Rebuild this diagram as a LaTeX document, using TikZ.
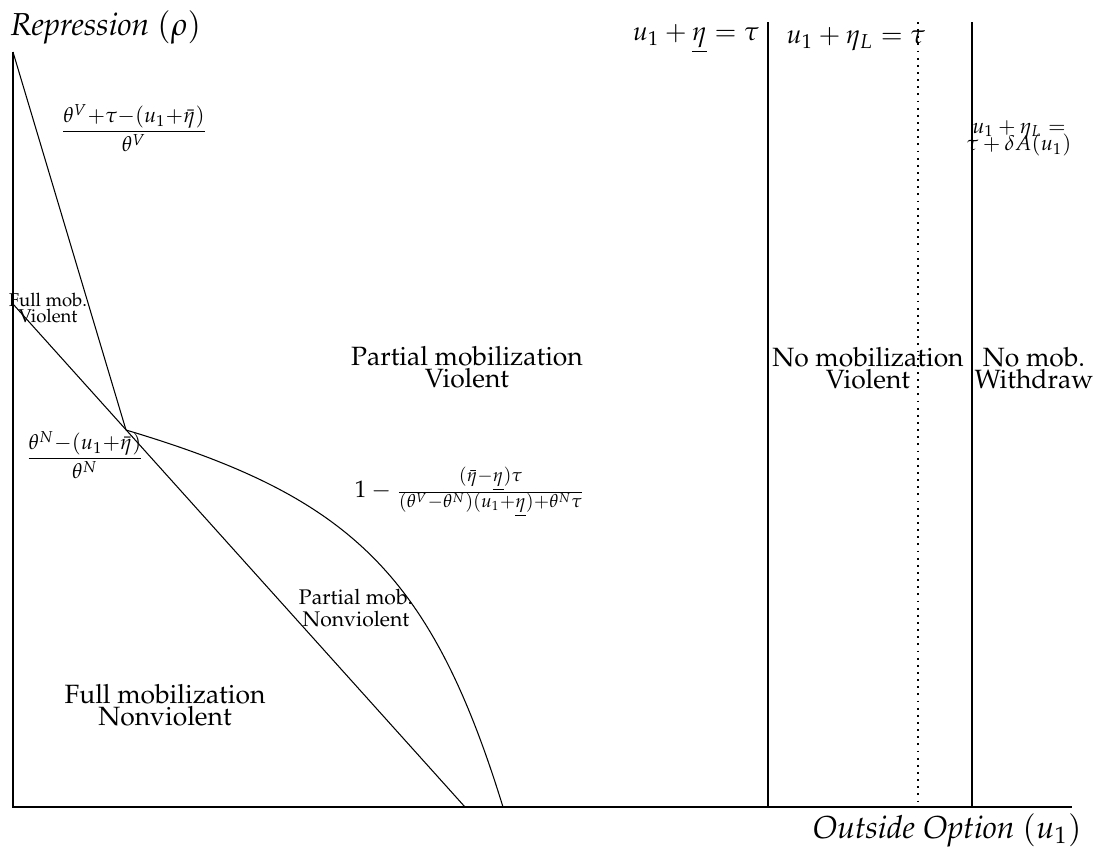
\documentclass[tikz,border=0pt]{standalone}
\usepackage[T1]{fontenc}
\usepackage{amsmath}
\usepackage{mathpazo}
\begin{document}
\begin{tikzpicture}[x=0.378pt,y=-0.378pt,
  curve/.style={line width=0.4pt},
  axis/.style={line width=0.7pt},
  lbl/.style={align=center,inner sep=0pt},
  sml/.style={lbl,font=\footnotesize},
  tny/.style={lbl,font=\scriptsize}]
\useasboundingbox (0,0) rectangle (1099,849);
% coordinates
\coordinate (top) at (13,52);
\coordinate (O) at (13,807);
\coordinate (xend) at (1072,807);
\coordinate (K) at (126,430);
\coordinate (A) at (13,304);
\coordinate (B) at (465,807);
\coordinate (C) at (503,807);
\coordinate (v1t) at (768,22);
\coordinate (v1b) at (768,807);
\coordinate (v2t) at (918,22);
\coordinate (v2b) at (918,807);
\coordinate (v3t) at (972,22);
\coordinate (v3b) at (972,807);
% axes
\draw[axis] (top) -- (O) -- (xend);
% boundaries
\draw[curve] (top) -- (K);
\draw[curve] (A) -- (B);
\draw[curve] (K) .. controls (347,496) and (430,570) .. (C);
\draw[curve] (v1t) -- (v1b);
\draw[line width=0.7pt, dotted] (v2t) -- (v2b);
\draw[curve] (v3t) -- (v3b);
% labels
\node[lbl, anchor=base west, font=\large] (ylab) at (10,35) {\textit{Repression} $(\rho)$};
\node[lbl, anchor=base east, font=\large] (xlab) at (1082,838) {\textit{Outside Option} $(u_1)$};
\node[sml] (fV) at (134,128) {$\dfrac{\theta^V{+}\tau{-}(u_1{+}\bar{\eta})}{\theta^V}$};
\node[tny] (fmv) at (48,308) {Full mob.\\[-2pt]Violent};
\node[sml] (fN) at (85,455) {$\dfrac{\theta^N{-}(u_1{+}\bar{\eta})}{\theta^N}$};
\node[lbl] (pmv) at (467,367) {Partial mobilization\\[-3.5pt]Violent};
\node[lbl] (nmv) at (868,368) {No mobilization\\[-3.5pt]Violent};
\node[lbl] (nmw) at (1034,368) {No mob.\\[-3.5pt]Withdraw};
\node[lbl] (l1) at (696,39) {$u_1+\underline{\eta}=\tau$};
\node[lbl] (l2) at (856,39) {$u_1+\eta_L=\tau$};
\node[sml] (l3) at (1019,138) {$u_1+\eta_L=$\\[-3pt]$\tau+\delta A(u_1)$};
\node[lbl, font=\small] (cu) at (470,492) {$1-\frac{(\bar{\eta}-\underline{\eta})\tau}{(\theta^V-\theta^N)(u_1+\underline{\eta})+\theta^N\tau}$};
\node[sml] (pmn) at (356,608) {Partial mob.\\[-1pt]Nonviolent};
\node[lbl] (fmn) at (165,705) {Full mobilization\\[-3.5pt]Nonviolent};
\end{tikzpicture}
\end{document}
